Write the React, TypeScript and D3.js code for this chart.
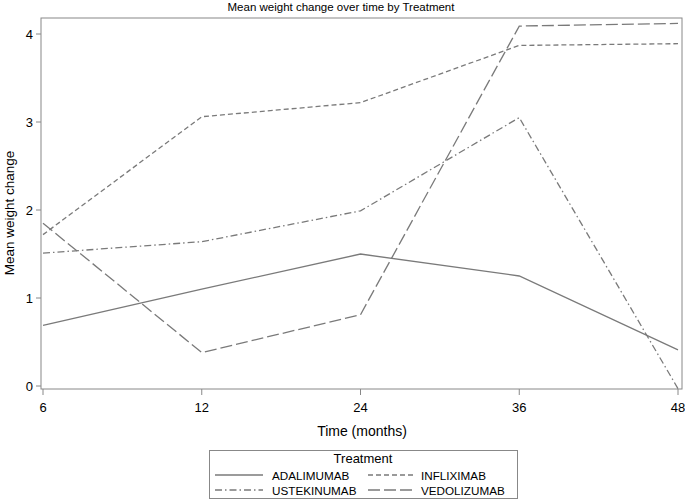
import React from "react";
import * as d3 from "d3";

const months = ["6", "12", "24", "36", "48"];
const seriesNames = ["ADALIMUMAB", "INFLIXIMAB", "USTEKINUMAB", "VEDOLIZUMAB"];
const adalimumab = [0.69, 1.1, 1.5, 1.25, 0.41];
const infliximab = [1.72, 3.06, 3.22, 3.87, 3.89];
const ustekinumab = [1.51, 1.64, 1.99, 3.05, -0.03];
const vedolizumab = [1.85, 0.38, 0.81, 4.09, 4.12];
const yTicks = [0, 1, 2, 3, 4];
const dashes = ["none", "5,3", "7,3,1.5,3", "12,4"];

const W = 685, H = 501;
const frame = { l: 41, r: 682, t: 18, b: 389 };
const gray = "#7a7a7a";
const font = "Liberation Sans, Arial, sans-serif";

export default function App() {
  const x = d3.scalePoint<string>().domain(months).range([43, 678]);
  const y = d3.scaleLinear().domain([0, 4]).range([386, 34]);
  const line = d3.line<number>().x((_, i) => x(months[i])!).y((d) => y(d));
  const data = [adalimumab, infliximab, ustekinumab, vedolizumab];

  return (
    <svg width={W} height={H} style={{ position: "absolute", left: 0, top: 0 }} fontFamily={font}>
      <rect x={0} y={0} width={W} height={H} fill="#fff" />
      <text x={341} y={11} textAnchor="middle" fontSize={11.5} fill="#000">
        Mean weight change over time by Treatment
      </text>
      <rect x={frame.l} y={frame.t} width={frame.r - frame.l} height={frame.b - frame.t} fill="none" stroke="#888" strokeWidth={1} />
      {yTicks.map((t) => (
        <g key={t}>
          <line x1={frame.l - 5} x2={frame.l} y1={y(t)} y2={y(t)} stroke="#888" />
          <text x={frame.l - 8} y={y(t) + 5} textAnchor="end" fontSize={13} fill="#000">{t}</text>
        </g>
      ))}
      {months.map((m) => (
        <g key={m}>
          <line x1={x(m)!} x2={x(m)!} y1={frame.b} y2={frame.b + 6} stroke="#888" />
          <text x={x(m)!} y={frame.b + 23} textAnchor="middle" fontSize={13} fill="#000">{m}</text>
        </g>
      ))}
      <text x={362} y={436} textAnchor="middle" fontSize={14} fill="#000">Time (months)</text>
      <text transform={`translate(14,213) rotate(-90)`} textAnchor="middle" fontSize={13.5} fill="#000">Mean weight change</text>
      {data.map((d, i) => (
        <path key={i} d={line(d)!} fill="none" stroke={gray} strokeWidth={1.3} strokeDasharray={dashes[i]} />
      ))}
      <rect x={209.5} y={450.5} width={308} height={48} fill="none" stroke="#888" />
      <text x={363} y={463} textAnchor="middle" fontSize={13} fill="#000">Treatment</text>
      {seriesNames.map((n, i) => {
        const col = i % 2, row = Math.floor(i / 2);
        const lx = col === 0 ? 215 : 368;
        const ly = row === 0 ? 475 : 490;
        return (
          <g key={n}>
            <line x1={lx} x2={lx + 48} y1={ly} y2={ly} stroke={gray} strokeWidth={1.3} strokeDasharray={dashes[i]} />
            <text x={col === 0 ? 272 : 421} y={ly + 4.5} fontSize={11.7} fill="#000">{n}</text>
          </g>
        );
      })}
    </svg>
  );
}
